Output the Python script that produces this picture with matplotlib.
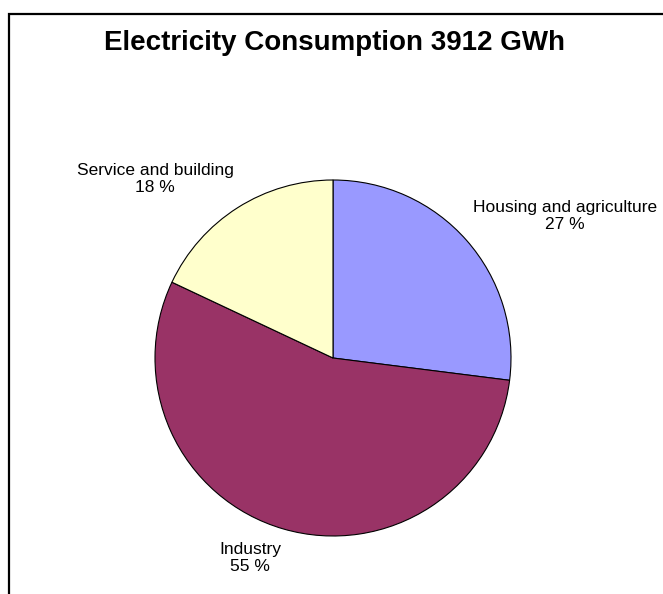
import matplotlib
matplotlib.use('Agg')
import matplotlib.pyplot as plt
from matplotlib.patches import Rectangle

title = 'Electricity Consumption 3912 GWh'
sectors = ['Housing and agriculture', 'Industry', 'Service and building']
shares = [27, 55, 18]
colors = ['#9999FF', '#993366', '#FFFFCC']
# label centres in pixels (x from left, y from top)
label_px = [(565, 216), (250, 558), (155, 179)]

plt.rcParams['font.family'] = ['Liberation Sans', 'DejaVu Sans']

W, H = 663, 594
fig = plt.figure(figsize=(W / 100, H / 100), dpi=100)

# frame running off the right and bottom edges
frame = Rectangle((8.5 / W, -0.1), 1.2, (H - 14) / H + 0.1, transform=fig.transFigure,
                  fill=False, edgecolor='black', linewidth=1.6, clip_on=False)
fig.patches.append(frame)

fig.text(335 / W, 1 - 50 / H, title, ha='center', va='baseline',
         fontsize=20, fontweight='bold')

r = 178
cx, cy = 333, H - 358
ax = fig.add_axes([(cx - r) / W, (cy - r) / H, 2 * r / W, 2 * r / H])
ax.pie(shares, colors=colors, startangle=90, counterclock=False, radius=1,
       wedgeprops=dict(edgecolor='black', linewidth=0.8))
ax.set_xlim(-1, 1)
ax.set_ylim(-1, 1)
ax.set_aspect('equal')
ax.axis('off')

for name, val, (x, y) in zip(sectors, shares, label_px):
    fig.text(x / W, 1 - y / H, f'{name}\n{val} %', ha='center', va='center',
             fontsize=12.5, linespacing=1.15)

plt.savefig('out.png', dpi=100)
